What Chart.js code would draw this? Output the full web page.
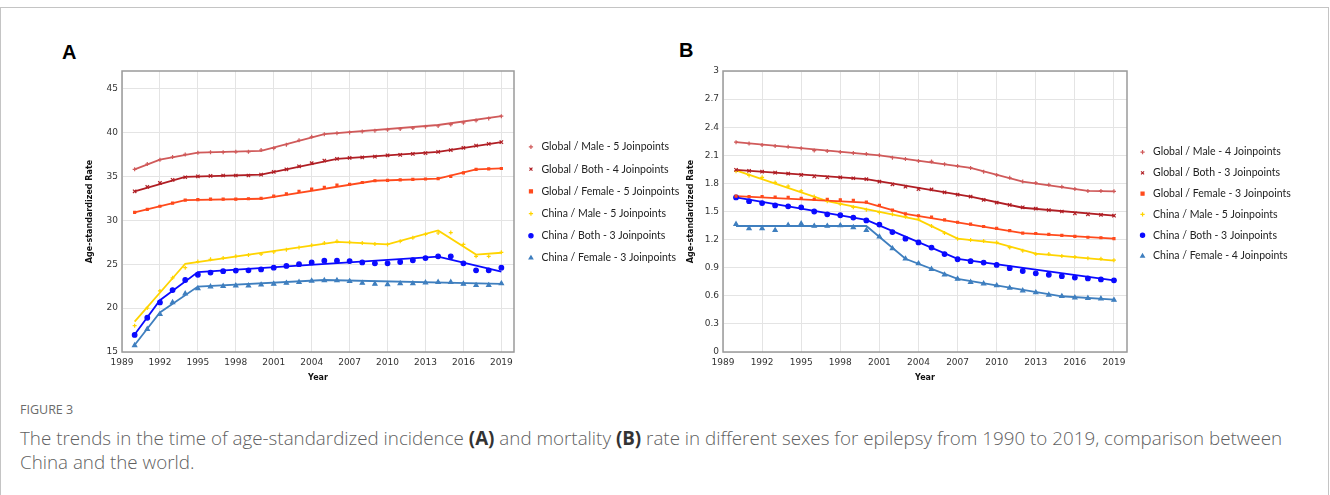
<!DOCTYPE html>
<html lang="en">
<head>
<meta charset="UTF-8">
<title>Figure 3 - epilepsy trends</title>
<script src="https://cdn.jsdelivr.net/npm/chart.js@4.4.3/dist/chart.umd.min.js"></script>
<style>
  body { margin: 0; background: #fff; width: 1330px; height: 495px; position: relative; overflow: hidden; }
  .frame { position: absolute; left: 0; top: 7px; width: 1327px; height: 500px; border: 1px solid #c4c4c4; }
  .wrap { position: absolute; }
  #wrapA { left: 40px; top: 60px; width: 650px; height: 335px; }
  #wrapB { left: 660px; top: 60px; width: 670px; height: 335px; }
  .tag { position: absolute; font: bold 20px "Liberation Sans", Arial, sans-serif; color: #000; line-height: 20px; }
  .fig { position: absolute; left: 20px; top: 401px; font: 12.5px "Open Sans", sans-serif; color: #6b6b6b; }
  .cap { position: absolute; left: 20px; top: 426px; width: 1295px; font: 300 18.8px "Open Sans", sans-serif; line-height: 24px; color: #5f5f5f; }
  .cap b { color: #333; font-weight: 700; }
</style>
</head>
<body>
<div class="frame"></div>
<div class="tag" style="left:62px;top:42px;">A</div>
<div class="tag" style="left:679px;top:40px;">B</div>
<div class="wrap" id="wrapA"><canvas id="chartA" width="650" height="335"></canvas></div>
<div class="wrap" id="wrapB"><canvas id="chartB" width="670" height="335"></canvas></div>
<div class="fig">FIGURE 3</div>
<div class="cap">The trends in the time of age-standardized incidence <b>(A)</b> and mortality <b>(B)</b> rate in different sexes for epilepsy from 1990 to 2019, comparison between China and the world.</div>
<script>
// observed years
const years = [1990,1991,1992,1993,1994,1995,1996,1997,1998,1999,2000,2001,2002,2003,2004,
               2005,2006,2007,2008,2009,2010,2011,2012,2013,2014,2015,2016,2017,2018,2019];
const xTicks = [1989,1992,1995,1998,2001,2004,2007,2010,2013,2016,2019];

// ---- panel A: incidence ----
const gmA = [35.8,36.4,36.9,37.2,37.5,37.7,37.75,37.75,37.8,37.8,38.0,38.2,38.6,39.1,39.5,39.8,39.9,40.0,40.1,40.2,40.3,40.4,40.5,40.65,40.75,40.9,41.1,41.35,41.6,41.85];
const gbA = [33.3,33.8,34.25,34.6,34.9,35.0,35.05,35.1,35.1,35.1,35.2,35.5,35.8,36.15,36.5,36.8,37.0,37.1,37.15,37.25,37.4,37.45,37.55,37.65,37.8,38.0,38.25,38.5,38.7,38.9];
const gfA = [30.9,31.25,31.6,31.95,32.3,32.35,32.4,32.4,32.4,32.45,32.5,32.75,33.0,33.3,33.55,33.75,34.0,34.1,34.3,34.5,34.55,34.6,34.65,34.7,34.75,35.0,35.4,35.8,35.85,35.9];
const cmA = [18.0,20.0,21.95,23.45,24.6,25.3,25.55,25.7,25.9,26.05,26.15,26.4,26.65,26.9,27.15,27.4,27.6,27.5,27.4,27.3,27.25,27.6,28.0,28.4,28.55,28.6,27.25,25.9,25.9,26.35];
const cbA = [16.95,18.9,20.65,22.05,23.2,23.8,24.05,24.2,24.27,24.3,24.4,24.6,24.8,25.0,25.2,25.4,25.4,25.35,25.2,25.1,25.1,25.25,25.45,25.7,25.9,25.9,25.1,24.3,24.3,24.6];
const cfA = [15.75,17.6,19.3,20.65,21.65,22.25,22.45,22.5,22.55,22.55,22.65,22.75,22.85,22.95,23.1,23.15,23.15,23.05,22.85,22.75,22.7,22.8,22.8,22.9,22.95,22.95,22.75,22.6,22.6,22.8];
// joinpoint fits (segment end years / values)
const gmFitYrA = [1990,1992,1995,2000,2005,2014,2019], gmFitA = [35.8,36.9,37.7,37.9,39.8,40.85,41.85];
const gbFitYrA = [1990,1994,2000,2006,2014,2019],      gbFitA = [33.3,34.95,35.2,37.0,37.8,38.9];
const gfFitYrA = [1990,1994,2000,2009,2014,2017,2019], gfFitA = [30.9,32.3,32.45,34.5,34.75,35.8,35.9];
const cmFitYrA = [1990,1994,2006,2010,2014,2017,2019], cmFitA = [18.45,25.05,27.55,27.25,28.85,26.1,26.3];
const cbFitYrA = [1990,1992,1995,2014,2019],           cbFitA = [17.0,20.9,24.1,25.85,24.15];
const cfFitYrA = [1990,1992,1995,2005,2019],           cfFitA = [15.8,19.5,22.45,23.2,22.75];
const yTicksA = [15,20,25,30,35,40,45];
const labelsA = ['Global / Male - 5 Joinpoints','Global / Both - 4 Joinpoints','Global / Female - 5 Joinpoints',
                 'China / Male - 5 Joinpoints','China / Both - 3 Joinpoints','China / Female - 3 Joinpoints'];

// ---- panel B: mortality ----
const gmB = [2.24,2.225,2.21,2.2,2.19,2.175,2.15,2.145,2.135,2.125,2.115,2.1,2.075,2.06,2.04,2.035,2.005,1.985,1.965,1.925,1.89,1.86,1.82,1.805,1.785,1.765,1.74,1.72,1.72,1.715];
const gbB = [1.945,1.935,1.925,1.915,1.905,1.89,1.875,1.865,1.865,1.855,1.845,1.82,1.79,1.765,1.74,1.735,1.705,1.68,1.66,1.625,1.596,1.57,1.545,1.53,1.515,1.5,1.48,1.47,1.465,1.455];
const gfB = [1.665,1.66,1.66,1.655,1.65,1.64,1.63,1.63,1.625,1.62,1.6,1.565,1.515,1.475,1.455,1.44,1.41,1.385,1.365,1.34,1.32,1.295,1.27,1.265,1.255,1.245,1.235,1.225,1.22,1.21];
const cmB = [1.93,1.885,1.865,1.81,1.77,1.72,1.66,1.61,1.58,1.545,1.52,1.49,1.47,1.445,1.42,1.345,1.27,1.21,1.195,1.185,1.17,1.115,1.08,1.045,1.045,1.025,1.015,1.0,0.995,0.98];
const cbB = [1.65,1.61,1.59,1.565,1.555,1.545,1.5,1.47,1.46,1.435,1.405,1.36,1.28,1.21,1.17,1.115,1.045,0.99,0.97,0.955,0.93,0.895,0.865,0.84,0.825,0.81,0.795,0.785,0.775,0.765];
const cfB = [1.365,1.32,1.32,1.3,1.355,1.37,1.345,1.345,1.35,1.33,1.3,1.23,1.105,0.995,0.945,0.885,0.825,0.78,0.745,0.73,0.71,0.685,0.655,0.635,0.61,0.595,0.58,0.575,0.57,0.555];
const gmFitYrB = [1990,2001,2008,2012,2017,2019],           gmFitB = [2.24,2.1,1.965,1.82,1.72,1.715];
const gbFitYrB = [1990,2000,2008,2012,2019],                gbFitB = [1.945,1.845,1.66,1.54,1.455];
const gfFitYrB = [1990,2000,2003,2012,2019],                gfFitB = [1.665,1.595,1.475,1.27,1.21];
const cmFitYrB = [1990,1997,2004,2007,2010,2013,2019],      cmFitB = [1.94,1.61,1.41,1.21,1.165,1.05,0.975];
const cbFitYrB = [1990,2000,2007,2019],                     cbFitB = [1.65,1.41,0.995,0.765];
const cfFitYrB = [1990,2000,2003,2007,2015,2019],           cfFitB = [1.345,1.345,0.995,0.78,0.595,0.56];
const yTicksB = [0,0.3,0.6,0.9,1.2,1.5,1.8,2.1,2.4,2.7,3];
const labelsB = ['Global / Male - 4 Joinpoints','Global / Both - 3 Joinpoints','Global / Female - 3 Joinpoints',
                 'China / Male - 5 Joinpoints','China / Both - 3 Joinpoints','China / Female - 4 Joinpoints'];

// series look, same order in both panels
const colors = ['#d05a5a', '#b01e24', '#ff4a1c', '#ffd400', '#0a0aff', '#3f7fbf'];
const marks  = ['cross', 'crossRot', 'rect', 'cross', 'circle', 'triangle'];
const sizes  = [2, 2.4, 1.4, 2, 2.3, 2.4];

const pts = (xs, ys) => xs.map((x, i) => ({x: x, y: ys[i]}));

// grey box round the plot area
const frame = {
  id: 'frame',
  afterDraw(c) {
    const {ctx, chartArea: a} = c;
    ctx.save();
    ctx.strokeStyle = '#9a9a9a';
    ctx.lineWidth = 1.5;
    ctx.strokeRect(a.left, a.top, a.right - a.left, a.bottom - a.top);
    ctx.restore();
  }
};

// give the legend a fixed width so the plot area ends where it should
const fixLegend = {
  id: 'fixLegend',
  beforeLayout(c, args, opts) {
    const lg = c.legend;
    if (lg && !lg._fixed) {
      const fit = lg.fit;
      lg.fit = function () { fit.call(this); this.width = opts.width; };
      lg._fixed = true;
    }
  }
};

function makeChart(id, obs, fits, labels, yMin, yMax, yTicks, o) {
  const datasets = [];
  obs.forEach((vals, i) => {
    datasets.push({
      label: labels[i], data: pts(years, vals), showLine: false,
      pointStyle: marks[i], pointRadius: sizes[i], pointHoverRadius: sizes[i],
      backgroundColor: colors[i], borderColor: colors[i], borderWidth: 1.2
    });
  });
  fits.forEach((f, i) => {
    datasets.push({
      label: 'fit ' + i, data: pts(f[0], f[1]), showLine: true, pointRadius: 0,
      borderColor: colors[i], borderWidth: 1.8, tension: 0
    });
  });
  return new Chart(document.getElementById(id), {
    type: 'scatter',
    data: {datasets: datasets},
    options: {
      responsive: false, animation: false,
      layout: {padding: {top: 11, right: 0, bottom: 0, left: 0}},
      scales: {
        x: {
          type: 'linear', min: 1989, max: 2020,
          afterBuildTicks: s => { s.ticks = xTicks.map(v => ({value: v})); },
          afterFit: s => { s.height = 43; },
          grid: {color: '#e4e4e4', drawTicks: false},
          border: {display: false},
          ticks: {padding: 5, color: '#333', font: {family: 'DejaVu Sans', size: 9}, callback: v => String(v)},
          title: {display: true, text: 'Year', color: '#111', padding: {top: 0, bottom: 12},
                  font: {family: 'DejaVu Sans', size: 8, weight: 'bold'}}
        },
        y: {
          min: yMin, max: yMax,
          afterBuildTicks: s => { s.ticks = yTicks.map(v => ({value: v})); },
          afterFit: s => { s.width = o.yWidth; },
          grid: {color: '#e4e4e4', drawTicks: false},
          border: {display: false},
          ticks: {padding: 4, color: '#333', font: {family: 'DejaVu Sans', size: 9},
                  callback: v => String(Number(v.toFixed(1)))},
          title: {display: true, text: 'Age-standardized Rate', color: '#111', padding: {top: o.titleX, bottom: 0},
                  font: {family: 'DejaVu Sans', size: 8, weight: 'bold'}}
        }
      },
      plugins: {
        tooltip: {enabled: false},
        fixLegend: {width: o.legendWidth},
        legend: {
          position: 'right', align: 'start',
          title: {display: true, text: '', font: {size: 10}, padding: {top: o.legendTop, bottom: 0}},
          labels: {
            filter: item => item.datasetIndex < 6,
            usePointStyle: true, boxWidth: 11, boxHeight: 3, padding: o.rowPad,
            color: '#222', font: {family: 'Lato', size: 10.5}
          }
        }
      }
    },
    plugins: [frame, fixLegend]
  });
}

makeChart('chartA', [gmA, gbA, gfA, cmA, cbA, cfA],
  [[gmFitYrA, gmFitA], [gbFitYrA, gbFitA], [gfFitYrA, gfFitA], [cmFitYrA, cmFitA], [cbFitYrA, cbFitA], [cfFitYrA, cfFitA]],
  labelsA, 15, 47, yTicksA, {legendWidth: 176, yWidth: 82, titleX: 45, legendTop: 47, rowPad: 11.7});

makeChart('chartB', [gmB, gbB, gfB, cmB, cbB, cfB],
  [[gmFitYrB, gmFitB], [gbFitYrB, gbFitB], [gfFitYrB, gfFitB], [cmFitYrB, cmFitB], [cbFitYrB, cbFitB], [cfFitYrB, cfFitB]],
  labelsB, 0, 3, yTicksB, {legendWidth: 203, yWidth: 63, titleX: 26, legendTop: 53.5, rowPad: 10.3});
</script>
</body>
</html>
